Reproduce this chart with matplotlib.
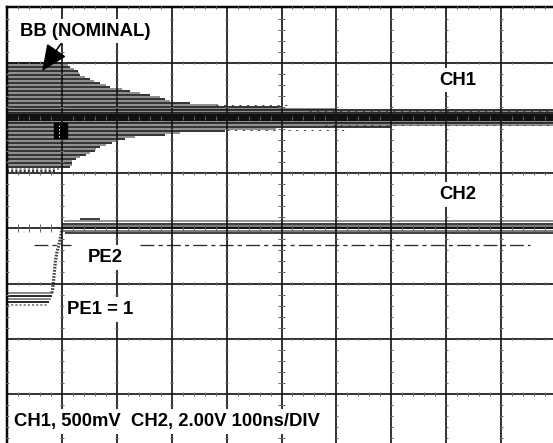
import matplotlib.pyplot as plt
from matplotlib.collections import LineCollection
from matplotlib.patches import Rectangle

plt.rcParams['font.family'] = ['Liberation Sans', 'DejaVu Sans']
plt.rcParams['lines.scale_dashes'] = False

PX = 0.72  # one pixel in points at dpi 100

# scope screen, in divisions (100 ns/div across, 10 x 8 graticule)
n_xdiv = 10
n_ydiv = 8

# CH1 (500 mV/div) sits on the 6 div line; ringing drawn as persistence stripes
ch1_level = 6.0
ring_up_offset = [1.00, 0.96, 0.92, 0.89, 0.85, 0.82, 0.78, 0.74, 0.71, 0.67, 0.63,
                  0.60, 0.56, 0.53, 0.49, 0.45, 0.42, 0.38, 0.34, 0.31, 0.27, 0.24]
ring_up_end = [1.00, 1.11, 1.15, 1.22, 1.29, 1.31, 1.33, 1.42, 1.51, 1.58, 1.69,
               1.80, 1.88, 2.09, 2.24, 2.42, 2.60, 2.79, 2.88, 2.97, 3.33, 3.84]
ring_dn_offset = [-0.24, -0.27, -0.31, -0.34, -0.38, -0.42, -0.45, -0.49, -0.53, -0.56, -0.60,
                  -0.63, -0.67, -0.71, -0.74, -0.78, -0.82, -0.85, -0.89, -0.92, -0.96]
ring_dn_end = [3.97, 3.15, 2.88, 2.33, 2.15, 2.02, 1.91, 1.80, 1.69, 1.62, 1.60,
               1.51, 1.44, 1.33, 1.26, 1.18, 1.18, 1.18, 1.15, 1.00, 0.87]
# settled part of CH1
settle_offset = [0.20, 0.17, 0.14, 0.11, 0.08, 0.05, 0.02, -0.01, -0.04, -0.07, -0.10, -0.13, -0.16, -0.20]
settle_end = [5.0, 6.0, 10, 10, 10, 10, 10, 10, 10, 10, 10, 10, 7.0, 4.9]
# sparse hits outside the band
stray_offset = [0.23, -0.22, 0.12, -0.12]
stray_start = [3.8, 4.0, 5.5, 5.8]
stray_end = [5.2, 6.2, 10, 10]

# CH2 (2.00 V/div): low before the edge, high after
ch2_low = 2.74
ch2_high = 4.0
low_offset = [0.09, 0.04, -0.02, -0.07, -0.13]
low_end = [0.84, 0.82, 0.80, 0.77, 0.73]
high_offset = [0.17, 0.13, 0.08, 0.04, 0.0, -0.04, -0.09]
high_start = [1.33, 1.03, 1.0, 1.0, 1.0, 1.0, 1.05]
high_end = [1.69, 10, 10, 10, 10, 10, 10]
edge_x = [0.82, 0.84, 0.86, 0.88, 0.91, 0.95, 0.98, 1.00]
edge_y = [2.83, 2.97, 3.18, 3.39, 3.57, 3.72, 3.86, 3.99]

# dash-dot reference level
ref_level = 3.70
ref_segments = [(0.49, 1.17), (2.42, 9.53)]

fig = plt.figure(figsize=(5.53, 4.43), dpi=100)
ax = fig.add_axes([0, 0, 1, 1])
ax.set_xlim(-7 / 54.9, 546 / 54.9)
ax.set_ylim(n_ydiv - 435.5 / 55.2, n_ydiv + 7.5 / 55.2)
ax.axis('off')

# graticule
grid = []
for i in range(n_xdiv + 1):
    grid.append([(i, 0), (i, n_ydiv)])
for j in range(n_ydiv + 1):
    grid.append([(0, j), (n_xdiv, j)])
ax.add_collection(LineCollection(grid, colors='#151515', linewidths=1.7 * PX, zorder=3))
ax.plot([0, 0], [0, n_ydiv], color='#0a0a0a', lw=2.5 * PX, zorder=3)
ax.plot([0, n_xdiv], [n_ydiv, n_ydiv], color='#0a0a0a', lw=2.5 * PX, zorder=3)

# minor ticks every 1/5 division
ticks = []
for i in range(n_xdiv + 1):
    h = 0.07 if i == n_xdiv // 2 else 0.03
    for k in range(n_ydiv * 5 + 1):
        if k % 5:
            ticks.append([(i - h, k * 0.2), (i + h, k * 0.2)])
for j in range(n_ydiv + 1):
    h = 0.07 if j == n_ydiv // 2 else 0.03
    for k in range(n_xdiv * 5 + 1):
        if k % 5:
            ticks.append([(k * 0.2, j - h), (k * 0.2, j + h)])
ax.add_collection(LineCollection(ticks, colors='#666666', linewidths=1.0 * PX, zorder=3))

shades = ['#141414', '#7d7d7d']

# CH1 ringing stripes
for n, (off, end) in enumerate(zip(ring_up_offset, ring_up_end)):
    ax.plot([0, end], [ch1_level + off] * 2, color=shades[n % 2],
            lw=1.7 * PX, solid_capstyle='butt', zorder=2)
for n, (off, end) in enumerate(zip(ring_dn_offset, ring_dn_end)):
    ls = (0, (1.5, 1.5)) if n >= len(ring_dn_offset) - 2 else '-'
    ax.plot([0, end], [ch1_level + off] * 2, color=shades[n % 2], ls=ls,
            lw=1.7 * PX, solid_capstyle='butt', zorder=2)
for n, (off, end) in enumerate(zip(settle_offset, settle_end)):
    core = abs(off) <= 0.05
    ax.plot([0, end], [ch1_level + off] * 2,
            color='#101010' if core else shades[n % 2],
            lw=(2.0 if core else 1.7) * PX, solid_capstyle='butt', zorder=2)
for off, x0, x1 in zip(stray_offset, stray_start, stray_end):
    ax.plot([x0, x1], [ch1_level + off] * 2, color='#444444', ls=(0, (1.5, 4)),
            lw=1.0 * PX, zorder=2)

# CH1 ground marker
ax.add_patch(Rectangle((0.86, 5.64), 0.23, 0.27, color='black', zorder=4))
ax.plot([0.95, 0.95], [5.66, 5.89], color='white', ls=(0, (1, 1.5)), lw=1.0 * PX, zorder=4)

# CH2 trace
for n, (off, end) in enumerate(zip(low_offset, low_end)):
    ls = (0, (1.5, 1.5)) if n == len(low_offset) - 1 else '-'
    ax.plot([0, end], [ch2_low + off] * 2, color=shades[(n + 1) % 2], ls=ls,
            lw=1.8 * PX, solid_capstyle='butt', zorder=2)
ax.plot(edge_x, edge_y, color='#404040', ls=(0, (1.2, 1.0)), lw=3.2 * PX, zorder=2)
for n, (off, x0, x1) in enumerate(zip(high_offset, high_start, high_end)):
    ax.plot([x0, x1], [ch2_high + off] * 2, color=shades[n % 2] if n else '#141414',
            lw=(2.0 if abs(off) < 0.05 else 1.6) * PX, solid_capstyle='butt', zorder=2)

for x0, x1 in ref_segments:
    ax.plot([x0, x1], [ref_level] * 2, color='#2a2a2a', lw=1.3 * PX,
            ls=(0, (10, 3, 3, 3)), zorder=2)

# labels
box = dict(boxstyle='square,pad=0.2', fc='white', ec='none')
txt = dict(fontsize=13.3, fontweight='bold', color='black', ha='left', va='baseline',
           bbox=box, zorder=5)
ax.text(0.24, 7.49, 'BB (NOMINAL)', **txt)
ax.text(7.87, 6.60, 'CH1', **txt)
ax.text(7.87, 4.53, 'CH2', **txt)
ax.text(1.47, 3.39, 'PE2', **txt)
ax.text(1.10, 2.45, 'PE1 = 1', **txt)
ax.text(0.13, 0.42, 'CH1, 500mV  CH2, 2.00V 100ns/DIV', **txt)

ax.annotate('', xy=(0.64, 6.85), xytext=(0.98, 7.34), zorder=6,
            arrowprops=dict(arrowstyle='-|>,head_length=0.9,head_width=0.4',
                            color='black', lw=1.6 * PX, shrinkA=0, shrinkB=0,
                            mutation_scale=18))

fig.savefig('out.png', dpi=100)
